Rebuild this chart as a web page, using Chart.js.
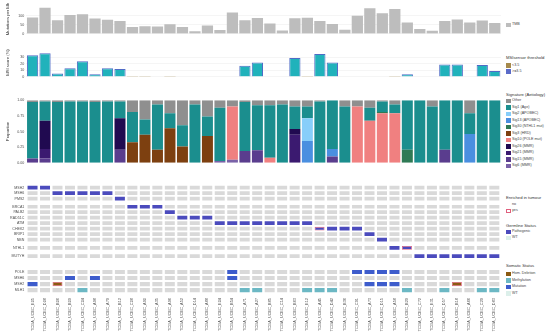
<!DOCTYPE html>
<html>
<head>
<meta charset="utf-8">
<script src="https://cdn.jsdelivr.net/npm/chart.js@4.4.1/dist/chart.umd.min.js"></script>
<style>
body { margin: 0; background: #fff; width: 550px; height: 333px; overflow: hidden; position: relative;
       font-family: "Liberation Sans", Arial, sans-serif; }
canvas { position: absolute; left: 0; }
.lt { position: absolute; left: 506px; font-size: 4.2px; color: #333; white-space: nowrap; line-height: 1; }
.li { position: absolute; left: 512px; font-size: 3.7px; color: #444; white-space: nowrap; line-height: 1; }
.sq { position: absolute; left: 506px; width: 4.5px; height: 4.5px; box-sizing: border-box; }
</style>
</head>
<body>
<canvas id="tmb" width="501" height="38" style="top:0px"></canvas>
<canvas id="msi" width="501" height="37" style="top:44px"></canvas>
<canvas id="sig" width="501" height="71" style="top:96px"></canvas>
<canvas id="genes" width="501" height="154" style="top:179px"></canvas>
<div id="legend"></div>
<script>
// sample ids along the x axis
const samples = ['TCGA_UCEC_E05','TCGA_UCEC_D08','TCGA_UCEC_B06','TCGA_UCEC_B09','TCGA_UCEC_C04','TCGA_UCEC_A98',
  'TCGA_UCEC_A79','TCGA_UCEC_B12','TCGA_UCEC_C08','TCGA_UCEC_A90','TCGA_UCEC_A35','TCGA_UCEC_A96','TCGA_UCEC_A52',
  'TCGA_UCEC_D14','TCGA_UCEC_A88','TCGA_UCEC_E04','TCGA_UCEC_B54','TCGA_UCEC_A71','TCGA_UCEC_A27','TCGA_UCEC_B85',
  'TCGA_UCEC_C14','TCGA_UCEC_B63','TCGA_UCEC_E12','TCGA_UCEC_A45','TCGA_UCEC_D42','TCGA_UCEC_B36','TCGA_UCEC_C91',
  'TCGA_UCEC_A73','TCGA_UCEC_D15','TCGA_UCEC_A58','TCGA_UCEC_B29','TCGA_UCEC_C72','TCGA_UCEC_E31','TCGA_UCEC_D57',
  'TCGA_UCEC_B18','TCGA_UCEC_A66','TCGA_UCEC_C29','TCGA_UCEC_D83'];

// mutations per Mb
const tmb = [90,143,75,103,108,84,78,71,37,41,40,52,37,14,46,21,117,75,87,57,
  19,86,89,70,54,22,100,141,113,137,62,27,17,70,79,62,73,59];
const tmbTicks = [0, 50, 100];

// MSI score (%)
const msiScore = [33,36,5,13,24,4,13,12,0.3,1,0,1,0,0,0,0.5,0,17,22,0,
  0,29,0.3,35,22,0,0,0,0,0.3,4,0,0.5,19,19,0,18,9];
const msiThreshold = 3.5;
const msiTicks = [0, 10, 20, 30];
const msiLabels = ['<3.5', '>=3.5'];

// signature proportions (legend order, Other on top)
const sigNames = ['Other','Sig1 (Age)','Sig2 (APOBEC)','Sig13 (APOBEC)','Sig30 (NTHL1 mut)','Sig3 (HRD)',
  'Sig10 (POLE mut)','Sig26 (MMR)','Sig21 (MMR)','Sig15 (MMR)','Sig6 (MMR)'];
const sigOther = [.03,.02,.03,.02,.02,.03,.02,.02,.19,.31,.07,.21,.40,.07,.26,.12,.10,.03,.08,.08,
  .07,.10,.10,.02,0,.10,.10,.12,.02,.07,0,0,.10,0,0,.21,0,0];
const sigAge = [.90,.31,.97,.98,.98,.97,.98,.27,.48,.24,.72,.24,.34,.93,.31,.85,0,.78,.72,.84,
  .93,.36,.19,.98,.78,.90,0,.21,.17,.14,.79,1,.90,.79,1,.33,1,1];
const sigApobec2 = [0,0,0,0,0,0,0,0,0,0,0,0,0,0,0,0,0,0,0,0,0,0,.36,0,0,0,0,0,0,0,0,0,0,0,0,0,0,0];
const sigApobec13 = [0,0,0,0,0,0,0,0,0,0,0,0,0,0,0,0,0,0,0,0,0,0,.35,0,.12,0,0,0,0,0,0,0,0,0,0,.46,0,0];
const sigNthl1 = [0,0,0,0,0,0,0,0,0,0,0,0,0,0,0,0,0,0,0,0,0,0,0,0,0,0,0,0,.02,0,.21,0,0,0,0,0,0,0];
const sigHrd = [0,0,0,0,0,0,0,0,.33,.45,.21,.55,.26,0,.43,0,0,0,0,0,0,0,0,0,0,0,0,0,0,0,0,0,0,0,0,0,0,0];
const sigPole = [0,0,0,0,0,0,0,0,0,0,0,0,0,0,0,0,.85,0,0,.08,0,0,0,0,0,0,.90,.67,.79,.79,0,0,0,0,0,0,0,0];
const sigMmr26 = [0,.45,0,0,0,0,0,.50,0,0,0,0,0,0,0,0,0,0,0,0,0,.09,0,0,0,0,0,0,0,0,0,0,0,0,0,0,0,0];
const sigMmr21 = [0,.15,0,0,0,0,0,0,0,0,0,0,0,0,0,0,0,0,0,0,0,.45,0,0,0,0,0,0,0,0,0,0,0,0,0,0,0,0];
const sigMmr15 = [.07,.07,0,0,0,0,0,.21,0,0,0,0,0,0,0,0,0,.19,.20,0,0,0,0,0,.10,0,0,0,0,0,0,0,0,.21,0,0,0,0];
const sigMmr6 = [0,0,0,0,0,0,0,0,0,0,0,0,0,0,0,.03,.05,0,0,0,0,0,0,0,0,0,0,0,0,0,0,0,0,0,0,0,0,0];
const sigTicks = [0, 0.25, 0.5, 0.75, 1];

// germline status: columns with a pathogenic variant, per gene
const germlineGenes = ['MSH2','MSH6','PMS2','BRCA1','PALB2','RAD51C','ATM','CHEK2','BRIP1','NBN','NTHL1','MUTYH'];
const germlineBlock = [0,0,0,1,1,1,1,1,1,1,2,3];
const germlinePathogenic = [[0,1],[2,3,4,5,6],[7],[8,9,10],[11],[12,13,14],[15,16,17,18,19,20,21,22],
  [23,24,25,26],[27],[28],[29,30],[31,32,33,34,35,36,37]];
const germlineEnriched = [[],[],[],[],[],[],[],[23],[],[],[30],[]];

// somatic status per gene
const somaticGenes = ['POLE','MSH6','MSH2','MLH1'];
const somaticMutation = [[16,26,27,28,29],[3,5,16],[0,27,28,29],[]];
const somaticDeletion = [[],[],[2,34],[]];
const somaticMethylation = [[],[],[],[4,17,18,22,23,24,30,33,36,37]];
const somaticEnriched = [[],[],[2,34],[]];

// colours
const grey = '#bdbdbd';
const msiLow = '#a68a4c', msiHigh = '#20b2bb', msiEdge = '#4f6bc6';
const sigColors = ['#8f8f8f','#1b8e8e','#87cefa','#4a8fe0','#2f7a55','#7d4010','#f08080',
  '#200a50','#3b1a70','#5a3d8e','#7a62a8'];
const tileNone = '#d9d9d9', tilePath = '#4b4bbd', tileMut = '#3d5ccc', tileDel = '#8b5a12',
  tileMeth = '#6cb8c4', tileWT = '#dcefea', enrichedEdge = '#e0607e';

const AXIS_W = 26.3;
const tickFont = { size: 3.6, family: 'Liberation Sans' };
const titleFont = { size: 4.2, family: 'Liberation Sans' };

function fixWidth(scale) { scale.width = AXIS_W; }

function yAxis(title, ticks, fmt, min, max) {
    return {
        min: min, max: max,
        afterFit: fixWidth,
        afterBuildTicks: s => { s.ticks = ticks.map(v => ({ value: v })); },
        border: { display: false },
        grid: { color: '#ebebeb', lineWidth: 0.5, drawTicks: false },
        ticks: { font: tickFont, color: '#4d4d4d', padding: 2, callback: fmt },
        title: { display: true, text: title, font: titleFont, color: '#333', padding: { top: 5, bottom: 0 } }
    };
}

const hiddenX = { display: false };
const base = { responsive: false, animation: false, devicePixelRatio: 1,
               plugins: { legend: { display: false }, tooltip: { enabled: false } },
               layout: { padding: 0 } };

// TMB
new Chart(document.getElementById('tmb'), {
    type: 'bar',
    data: { labels: samples, datasets: [{ data: tmb, backgroundColor: grey,
            barPercentage: 0.9, categoryPercentage: 1 }] },
    options: { ...base, scales: { x: hiddenX,
        y: yAxis('Mutations per Mb', tmbTicks, v => v, 0, 163) } }
});

// MSI
new Chart(document.getElementById('msi'), {
    type: 'bar',
    data: { labels: samples, datasets: [{ data: msiScore,
            backgroundColor: msiScore.map(v => v > msiThreshold ? msiHigh : msiLow),
            borderColor: msiEdge,
            borderWidth: msiScore.map(v => v > msiThreshold ? 1 : 0),
            barPercentage: 0.9, categoryPercentage: 1 }] },
    options: { ...base, scales: { x: hiddenX,
        y: yAxis('MSI score (%)', msiTicks, v => v, 0, 44) } }
});

// signatures, stacked bottom-up so Other ends on top
const sigSeries = [sigOther, sigAge, sigApobec2, sigApobec13, sigNthl1, sigHrd, sigPole,
                   sigMmr26, sigMmr21, sigMmr15, sigMmr6];
const sigSets = sigSeries.map((d, i) => ({ label: sigNames[i], data: d, backgroundColor: sigColors[i],
    barPercentage: 0.88, categoryPercentage: 1 })).reverse();
const sigY = yAxis('Proportion', sigTicks, v => v.toFixed(2), 0, 1);
sigY.stacked = true;
sigY.grid = { display: false, drawTicks: false };
new Chart(document.getElementById('sig'), {
    type: 'bar',
    data: { labels: samples, datasets: sigSets },
    options: { ...base, scales: { x: { display: false, stacked: true }, y: sigY } }
});

// gene tiles
const rowNames = [], rowPos = [];
germlineGenes.forEach((g, i) => { rowNames.push(g); rowPos.push(i + germlineBlock[i] * 0.5); });
somaticGenes.forEach((g, i) => { rowNames.push(g); rowPos.push(15.4 + i * 1.1); });

const tileSets = [];
germlineGenes.forEach((g, r) => {
    const p = rowPos[r], h = 0.34;
    tileSets.push({
        data: samples.map(() => [p - h, p + h]),
        backgroundColor: samples.map((s, c) => germlinePathogenic[r].includes(c) ? tilePath : tileNone),
        borderColor: enrichedEdge,
        borderWidth: samples.map((s, c) => germlineEnriched[r].includes(c) ? 0.8 : 0),
        borderSkipped: false, grouped: false, barPercentage: 0.8, categoryPercentage: 1
    });
});
somaticGenes.forEach((g, i) => {
    const p = rowPos[germlineGenes.length + i], h = 0.37;
    tileSets.push({
        data: samples.map(() => [p - h, p + h]),
        backgroundColor: samples.map((s, c) => {
            if (somaticDeletion[i].includes(c)) return tileDel;
            if (somaticMutation[i].includes(c)) return tileMut;
            if (somaticMethylation[i].includes(c)) return tileMeth;
            return tileNone;
        }),
        borderColor: enrichedEdge,
        borderWidth: samples.map((s, c) => somaticEnriched[i].includes(c) ? 0.8 : 0),
        borderSkipped: false, grouped: false, barPercentage: 0.8, categoryPercentage: 1
    });
});

new Chart(document.getElementById('genes'), {
    type: 'bar',
    data: { labels: samples, datasets: tileSets },
    options: { ...base, scales: {
        x: { afterFit: s => { s.height = 37; },
             grid: { display: false, drawTicks: false }, border: { display: false },
             ticks: { font: { size: 3.9, family: 'Liberation Sans' }, color: '#555', padding: 2,
                      minRotation: 90, maxRotation: 90, autoSkip: false } },
        y: { reverse: true, min: -0.8, max: 19.77, afterFit: fixWidth,
             afterBuildTicks: s => { s.ticks = rowPos.map(v => ({ value: v })); },
             grid: { display: false, drawTicks: false }, border: { display: false },
             ticks: { font: tickFont, color: '#4d4d4d', padding: 2, autoSkip: false,
                      callback: (v, i) => rowNames[i] } }
    } }
});

// legends on the right
const legend = document.getElementById('legend');
function title(text, y) {
    const d = document.createElement('div'); d.className = 'lt'; d.textContent = text;
    d.style.top = (y - 2.1) + 'px'; legend.appendChild(d);
}
function item(text, y, fill, edge) {
    const s = document.createElement('div'); s.className = 'sq';
    s.style.top = (y - 2.25) + 'px';
    if (fill) s.style.background = fill;
    if (edge) s.style.border = '0.8px solid ' + edge;
    legend.appendChild(s);
    const d = document.createElement('div'); d.className = 'li'; d.textContent = text;
    d.style.top = (y - 1.9) + 'px'; legend.appendChild(d);
}
item('TMB', 25, grey);
title('MSIsensor threshold', 58.5);
item(msiLabels[0], 65.5, msiLow);
item(msiLabels[1], 71.5, '#5b6bc9');
title('Signature (Aetiology)', 95);
sigNames.forEach((n, i) => item(n, 101 + 6.5 * i, sigColors[i]));
title('Enriched in tumour', 198);
item('no', 204.5, null, null);
item('yes', 211, '#fff', enrichedEdge);
title('Germline Status', 226);
item('Pathogenic', 232, tilePath);
item('WT', 238, tileWT);
title('Somatic Status', 266);
item('Hom. Deletion', 274, tileDel);
item('Methylation', 280.5, tileMeth);
item('Mutation', 287, tileMut);
item('WT', 293.5, tileWT);
</script>
</body>
</html>
